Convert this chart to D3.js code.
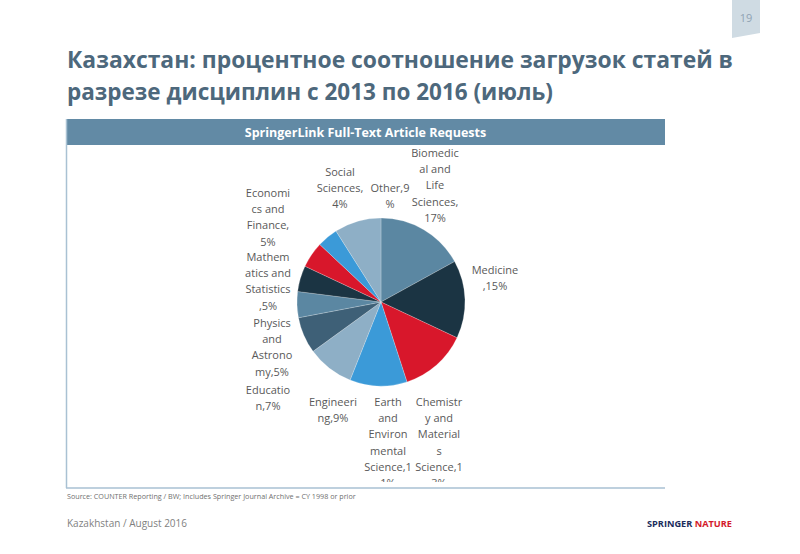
<!DOCTYPE html>
<html><head><meta charset="utf-8">
<script src="https://cdn.jsdelivr.net/npm/d3@7"></script>
<style>body{margin:0;background:#fff}svg{display:block}</style>
</head><body>
<svg id="c" width="800" height="554"></svg>
<script>
const categories = ["Biomedical and Life Sciences","Medicine","Chemistry and Materials Science","Earth and Environmental Science","Engineering","Education","Physics and Astronomy","Mathematics and Statistics","Economics and Finance","Social Sciences","Other"];
const values = [17,15,13,11,9,7,5,5,5,4,9];
const labelLines = [
  ["Biomedic","al and","Life","Sciences,","17%"],
  ["Medicine",",15%"],
  ["Chemistr","y and","Material","s","Science,1","3%"],
  ["Earth","and","Environ","mental","Science,1","1%"],
  ["Engineeri","ng,9%"],
  ["Educatio","n,7%"],
  ["Physics","and","Astrono","my,5%"],
  ["Mathem","atics and","Statistics",",5%"],
  ["Economi","cs and","Finance,","5%"],
  ["Social","Sciences,","4%"],
  ["Other,9","%"]
];
const palette = ["#5b87a2","#1b3443","#d8172b","#3b9ad8","#8eafc6","#3e6077"];
const titleLines = ["Казахстан: процентное соотношение загрузок статей в","разрезе дисциплин с 2013 по 2016 (июль)"];
const chartTitle = "SpringerLink Full-Text Article Requests";
const sourceText = "Source: COUNTER Reporting / BW; Includes Springer Journal Archive  = CY 1998 or prior";
const footerText = "Kazakhstan / August 2016";
const pageNo = "19";

// label anchor (center x, first line y) for each category, layout only
const labelPos = [[435,157],[495,274],[439,406],[388,406],[333,406],[268,394],[272,327],[268,261],[268,197],[340,176],[390,192]];

const svg = d3.select("#c");
const font = "'Open Sans', sans-serif";

// page number tab
svg.append("path").attr("d","M732,0 L760,0 L760,33 L732,38 Z").attr("fill","#cfdbe3");
svg.append("text").attr("x",746).attr("y",22).attr("text-anchor","middle")
  .attr("font-family",font).attr("font-size",11).attr("fill","#8fa3b3").text(pageNo);

// title
const tw = [666, 486];
titleLines.forEach((t,i)=>{
  svg.append("text").attr("x",67).attr("y",68+i*32).attr("font-family",font)
    .attr("font-weight",700).attr("font-size",24).attr("fill","#4d687c")
    .attr("textLength",tw[i]).attr("lengthAdjust","spacingAndGlyphs").text(t);
});

// chart frame
const fx0=66, fx1=665, fy0=119, fy1=488;
svg.append("rect").attr("x",fx0).attr("y",fy0).attr("width",fx1-fx0).attr("height",26).attr("fill","#628aa5");
svg.append("text").attr("x",(fx0+fx1)/2).attr("y",137).attr("text-anchor","middle")
  .attr("font-family",font).attr("font-weight",700).attr("font-size",12.5).attr("fill","#fff").text(chartTitle);
svg.append("line").attr("x1",fx0+0.5).attr("x2",fx0+0.5).attr("y1",fy0).attr("y2",fy1).attr("stroke","#a9c1d3").attr("stroke-width",1.5);
svg.append("line").attr("x1",fx0).attr("x2",fx1).attr("y1",fy1).attr("y2",fy1).attr("stroke","#a9c1d3").attr("stroke-width",1.5);

svg.append("clipPath").attr("id","plotclip").append("rect").attr("x",fx0).attr("y",fy0).attr("width",fx1-fx0).attr("height",fy1-fy0-6);
const plot = svg.append("g").attr("clip-path","url(#plotclip)");

// pie
const cx=381, cy=302, r=84;
const pie = d3.pie().sort(null).value(d=>d)(values);
const arc = d3.arc().innerRadius(0).outerRadius(r);
const color = d3.scaleOrdinal().domain(d3.range(palette.length)).range(palette);
const g = plot.append("g").attr("transform",`translate(${cx},${cy})`);
g.selectAll("path").data(pie).join("path").attr("d",arc)
  .attr("fill",(d,i)=>color(i%palette.length)).attr("stroke","#ffffff").attr("stroke-opacity",0.35).attr("stroke-width",0.6);

// labels
const lh = 16.2;
labelLines.forEach((lines,i)=>{
  const t = plot.append("text").attr("font-family",font).attr("font-size",11).attr("fill","#595959").attr("text-anchor","middle");
  lines.forEach((s,j)=>{
    t.append("tspan").attr("x",labelPos[i][0]).attr("y",labelPos[i][1]+j*lh).text(s);
  });
});

// footer
svg.append("text").attr("x",67).attr("y",499).attr("font-family",font).attr("font-size",7.2).attr("fill","#707070").text(sourceText);
svg.append("text").attr("x",67).attr("y",527).attr("font-family",font).attr("font-size",10).attr("fill","#7f7f7f").text(footerText);
const logo = svg.append("text").attr("x",647).attr("y",527).attr("font-family",font).attr("font-weight",700).attr("font-size",9.5)
  .attr("textLength",85).attr("lengthAdjust","spacingAndGlyphs");
logo.append("tspan").attr("fill","#1b2c5c").text("SPRINGER ");
logo.append("tspan").attr("fill","#d4192c").text("NATURE");
</script>
</body></html>
